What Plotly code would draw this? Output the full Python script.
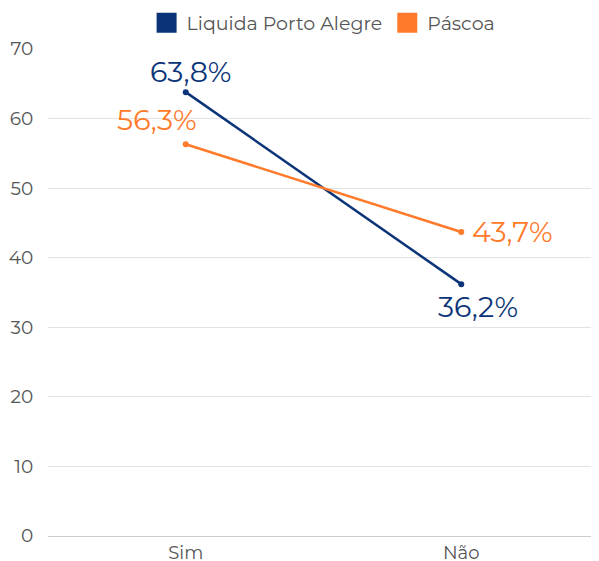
import plotly.graph_objects as go

categories = ["Sim", "Não"]
liquida = [63.8, 36.2]
pascoa = [56.3, 43.7]
liquida_labels = ["63,8%", "36,2%"]
pascoa_labels = ["56,3%", "43,7%"]
y_ticks = [0, 10, 20, 30, 40, 50, 60, 70]

BLUE = "#0B3478"
ORANGE = "#FF7A2A"
FONT = "Montserrat, Open Sans, sans-serif"

fig = go.Figure()
fig.add_trace(go.Scatter(
    x=categories, y=liquida, name="Liquida Porto Alegre",
    mode="lines+markers", showlegend=False,
    line=dict(color=BLUE, width=2.5), marker=dict(color=BLUE, size=6),
))
fig.add_trace(go.Scatter(
    x=categories, y=pascoa, name="Páscoa",
    mode="lines+markers", showlegend=False,
    line=dict(color=ORANGE, width=2.5), marker=dict(color=ORANGE, size=6),
))
# legend entries with square swatches
for nm, col in [("Liquida Porto Alegre", BLUE), ("Páscoa", ORANGE)]:
    fig.add_trace(go.Scatter(
        x=[None], y=[None], name=nm, mode="markers",
        marker=dict(symbol="square", color=col, size=16,
                    line=dict(color=col, width=4)),
    ))

# value labels
offsets_liq = [(5, 21), (17, -22)]
offsets_pas = [(-29, 25), (51, 0)]
for vals, labs, offs, col in [(liquida, liquida_labels, offsets_liq, BLUE),
                              (pascoa, pascoa_labels, offsets_pas, ORANGE)]:
    for c, v, t, (dx, dy) in zip(categories, vals, labs, offs):
        fig.add_annotation(x=c, y=v, text=t, showarrow=False,
                           xshift=dx, yshift=dy,
                           font=dict(color=col, size=28.5, family=FONT))

fig.update_layout(
    width=591, height=553,
    margin=dict(l=40, r=0, t=41, b=25, autoexpand=False),
    plot_bgcolor="white", paper_bgcolor="white",
    font=dict(family=FONT, color="#555555", size=18.5),
    showlegend=True,
    legend=dict(orientation="h", x=0.534, xanchor="center", xref="container",
                y=0.973, yanchor="middle", yref="container",
                font=dict(size=19, color="#555555"), itemsizing="trace",
                traceorder="normal", tracegroupgap=0),
    xaxis=dict(range=[-0.5, 1.5], showgrid=False, showline=True, linecolor="#cccccc",
               linewidth=1, ticks="", tickfont=dict(size=18, color="#555555"),
               zeroline=False, automargin=False),
    yaxis=dict(range=[0, 70], tickvals=y_ticks, showgrid=True, gridcolor="#e3e3e3",
               zeroline=False, showline=False, ticks="outside", ticklen=10,
               tickcolor="white", tickfont=dict(size=18.5, color="#555555"),
               automargin=False),
)

fig.write_html("out.html")
